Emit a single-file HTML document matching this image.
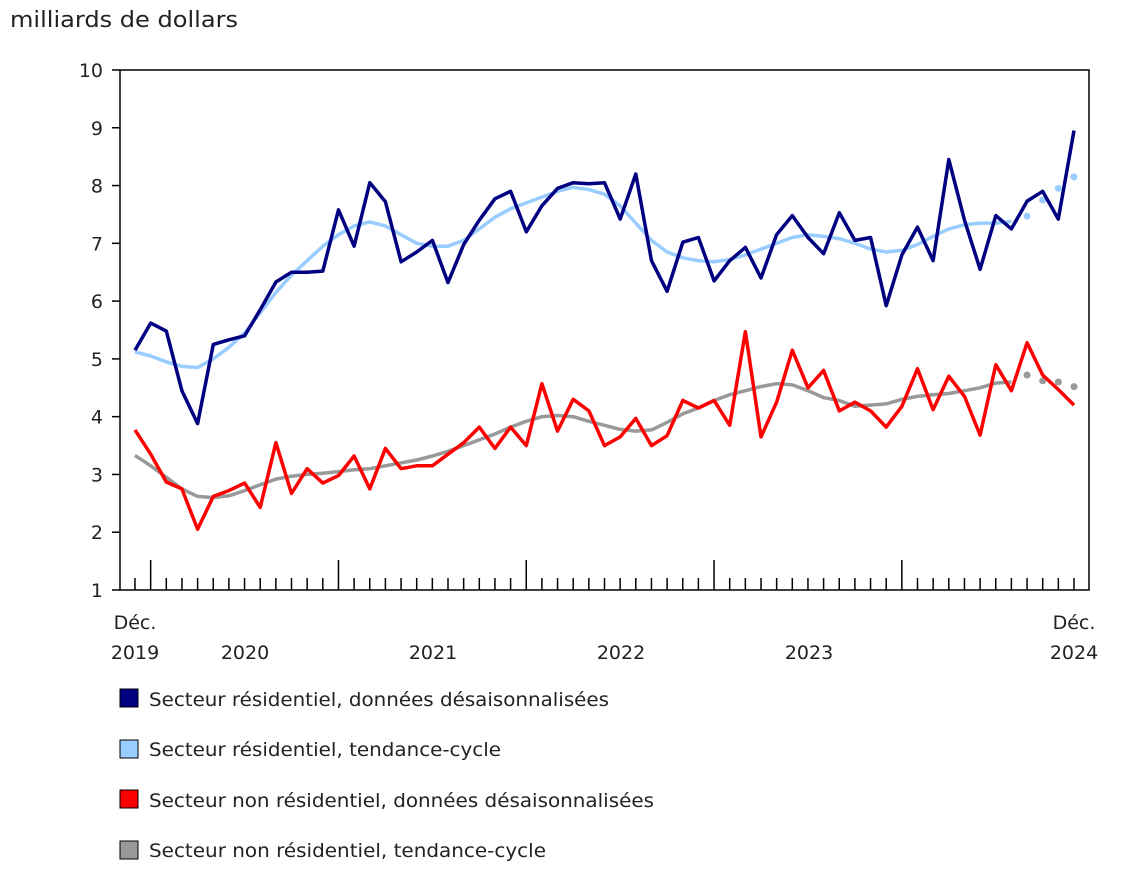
<!DOCTYPE html>
<html><head><meta charset="utf-8"><style>
body{margin:0;background:#fff;width:1148px;height:869px;overflow:hidden;font-family:"Liberation Sans","DejaVu Sans",sans-serif;}
svg text{font-family:"DejaVu Sans","Liberation Sans",sans-serif;font-size:19px;fill:#222;}
</style></head><body>
<svg id="s" width="1148" height="869" xmlns="http://www.w3.org/2000/svg">
<text x="10" y="27" style="font-size:22px" textLength="228" lengthAdjust="spacingAndGlyphs">milliards de dollars</text>
<rect x="120" y="70" width="969" height="520" fill="none" stroke="#000" stroke-width="1.5"/>
<g id="g"></g>
<text x="135" y="629" text-anchor="middle">Déc.</text>
<text x="135" y="659" text-anchor="middle">2019</text>
<text x="245" y="659" text-anchor="middle">2020</text>
<text x="433" y="659" text-anchor="middle">2021</text>
<text x="621" y="659" text-anchor="middle">2022</text>
<text x="809" y="659" text-anchor="middle">2023</text>
<text x="1074" y="629" text-anchor="middle">Déc.</text>
<text x="1074" y="659" text-anchor="middle">2024</text>
<rect x="120" y="689" width="18" height="18" fill="#000080" stroke="#000"/>
<text x="149" y="706" textLength="460" lengthAdjust="spacingAndGlyphs">Secteur résidentiel, données désaisonnalisées</text>
<rect x="120" y="740" width="18" height="18" fill="#99ccff" stroke="#000"/>
<text x="149" y="756" textLength="352" lengthAdjust="spacingAndGlyphs">Secteur résidentiel, tendance-cycle</text>
<rect x="120" y="790" width="18" height="18" fill="#ff0000" stroke="#000"/>
<text x="149" y="807" textLength="505" lengthAdjust="spacingAndGlyphs">Secteur non résidentiel, données désaisonnalisées</text>
<rect x="120" y="841" width="18" height="18" fill="#999" stroke="#000"/>
<text x="149" y="857" textLength="397" lengthAdjust="spacingAndGlyphs">Secteur non résidentiel, tendance-cycle</text>
</svg>
<script>
var g=document.getElementById('g'),h='';
function X(i){return 135+15.65*i}function Y(v){return 590-(v-1)*57.78}
for(var v=1;v<=10;v++){h+='<line x1="112" x2="120" y1="'+Y(v)+'" y2="'+Y(v)+'" stroke="#000" stroke-width="1.5"/><text x="103" y="'+(Y(v)+7)+'" text-anchor="end">'+v+'</text>';}
for(var i=0;i<=60;i++){var major=(i%12==1);h+='<line x1="'+X(i)+'" x2="'+X(i)+'" y1="'+(major?560:578)+'" y2="590" stroke="#000" stroke-width="1.5"/>';}
function line(d,c,n){var p=[];for(var i=0;i<n;i++)p.push(X(i).toFixed(1)+','+Y(d[i]).toFixed(1));h+='<polyline fill="none" stroke="'+c+'" stroke-width="3.5" stroke-linejoin="round" points="'+p.join(' ')+'"/>';}
function dots(d,c,s){for(var i=s;i<d.length;i++)h+='<circle cx="'+X(i)+'" cy="'+Y(d[i])+'" r="3.5" fill="'+c+'"/>';}
var db=[5.15,5.62,5.48,4.45,3.88,5.25,5.33,5.4,5.85,6.33,6.5,6.5,6.52,7.58,6.95,8.05,7.72,6.68,6.85,7.05,6.32,6.98,7.4,7.77,7.9,7.2,7.65,7.95,8.05,8.03,8.05,7.42,8.2,6.7,6.17,7.02,7.1,6.35,6.7,6.93,6.4,7.15,7.48,7.1,6.82,7.53,7.05,7.1,5.92,6.8,7.28,6.7,8.45,7.4,6.55,7.48,7.25,7.73,7.9,7.42,8.95];
var lb=[5.12,5.05,4.95,4.87,4.85,5.0,5.2,5.45,5.8,6.15,6.45,6.7,6.95,7.15,7.3,7.37,7.3,7.15,7.0,6.95,6.95,7.05,7.25,7.45,7.6,7.7,7.8,7.9,7.97,7.93,7.85,7.65,7.35,7.05,6.85,6.75,6.7,6.68,6.72,6.8,6.9,7.0,7.1,7.15,7.12,7.08,7.0,6.9,6.85,6.88,6.98,7.12,7.25,7.32,7.35,7.35,7.38,7.47,7.75,7.95,8.15];
var rd=[3.77,3.35,2.87,2.75,2.05,2.62,2.72,2.85,2.43,3.55,2.67,3.1,2.85,2.98,3.32,2.75,3.45,3.1,3.15,3.15,3.35,3.55,3.82,3.45,3.82,3.5,4.57,3.75,4.3,4.1,3.5,3.65,3.97,3.5,3.67,4.28,4.15,4.28,3.85,5.47,3.65,4.25,5.15,4.5,4.8,4.1,4.25,4.1,3.82,4.18,4.83,4.12,4.7,4.35,3.68,4.9,4.45,5.28,4.72,4.47,4.2];
var gr=[3.33,3.15,2.95,2.75,2.62,2.6,2.63,2.72,2.82,2.92,2.97,3.0,3.02,3.05,3.08,3.1,3.15,3.2,3.25,3.32,3.4,3.5,3.6,3.7,3.82,3.92,4.0,4.02,4.0,3.92,3.85,3.78,3.75,3.77,3.9,4.05,4.15,4.28,4.38,4.45,4.52,4.57,4.55,4.45,4.33,4.28,4.18,4.2,4.22,4.3,4.35,4.38,4.4,4.45,4.5,4.58,4.6,4.72,4.62,4.6,4.52];
line(gr,'#999',57);dots(gr,'#999',57);
line(lb,'#99ccff',57);dots(lb,'#99ccff',57);
line(rd,'#ff0000',61);line(db,'#000080',61);
g.innerHTML=h;
</script>
</body></html>
